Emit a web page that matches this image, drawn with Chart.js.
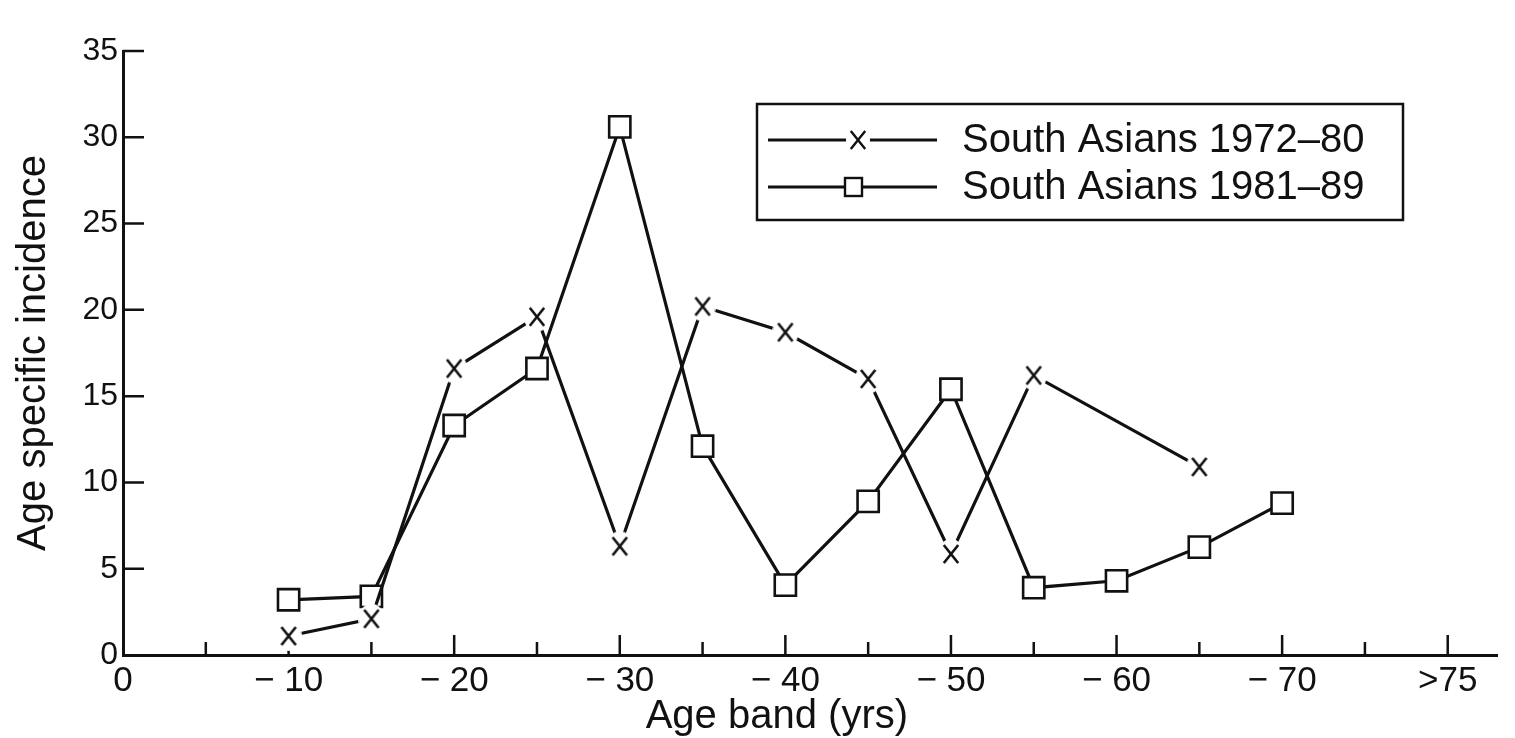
<!DOCTYPE html>
<html>
<head>
<meta charset="utf-8">
<script src="https://cdn.jsdelivr.net/npm/chart.js@4"></script>
<style>
  html, body { margin: 0; padding: 0; background: #fff; }
  #wrap { width: 1515px; height: 738px; }
</style>
</head>
<body>
<div id="wrap"><canvas id="chart" width="1515" height="738"></canvas></div>
<script>
// -------------------- DATA --------------------
const xTickValues = [0, 5, 10, 15, 20, 25, 30, 35, 40, 45, 50, 55, 60, 65, 70, 75, 80];
const xTickLabels = ["0", "", "\u2212 10", "", "\u2212 20", "", "\u2212 30", "", "\u2212 40", "",
    "\u2212 50", "", "\u2212 60", "", "\u2212 70", "", ">75"];
const yTickValues = [0, 5, 10, 15, 20, 25, 30, 35];

const ages1972 = [10, 15, 20, 25, 30, 35, 40, 45, 50, 55, 65];
const incidence1972 = [1.1, 2.1, 16.6, 19.6, 6.3, 20.2, 18.7, 16.0, 5.85, 16.2, 10.9];

const ages1981 = [10, 15, 20, 25, 30, 35, 40, 45, 50, 55, 60, 65, 70];
const incidence1981 = [3.2, 3.4, 13.3, 16.6, 30.6, 12.1, 4.05, 8.9, 15.4, 3.9, 4.3, 6.25, 8.8];

const seriesLabels = ["South Asians 1972\u201380", "South Asians 1981\u201389"];

const FONT = "'Liberation Sans', Arial, Helvetica, sans-serif";

// -------------------- MARKERS --------------------
function makeCross(w, h, arm, lw) {
    const c = document.createElement("canvas");
    c.width = w;
    c.height = h;
    const g = c.getContext("2d");
    g.fillStyle = "#fff";
    g.beginPath();
    g.ellipse(w / 2, h / 2, w / 2, h / 2, 0, 0, Math.PI * 2);
    g.fill();
    g.strokeStyle = "#111";
    g.lineWidth = lw;
    g.beginPath();
    g.moveTo(w / 2 - arm * 0.8, h / 2 - arm);
    g.lineTo(w / 2 + arm * 0.8, h / 2 + arm);
    g.moveTo(w / 2 + arm * 0.8, h / 2 - arm);
    g.lineTo(w / 2 - arm * 0.8, h / 2 + arm);
    g.stroke();
    return c;
}

const crossMarker = makeCross(26, 30, 9, 2.6);
const crossMarkerSmall = makeCross(24, 28, 9, 2.4);

// -------------------- PLUGINS --------------------
const innerTicks = {
    id: "innerTicks",
    beforeDatasetsDraw(chart) {
        const { ctx, scales } = chart;
        const x = scales.x, y = scales.y;
        ctx.save();
        ctx.strokeStyle = "#111";
        ctx.lineWidth = 2.5;
        ctx.beginPath();
        xTickValues.forEach(v => {
            if (v === 0) return;
            const px = x.getPixelForValue(v);
            const len = v % 10 === 0 ? 20 : 13;
            ctx.moveTo(px, y.bottom);
            ctx.lineTo(px, y.bottom - len);
        });
        yTickValues.forEach(v => {
            if (v === 0) return;
            const py = y.getPixelForValue(v);
            ctx.moveTo(x.left, py);
            ctx.lineTo(x.left + 21, py);
        });
        ctx.stroke();
        ctx.restore();
    }
};

const boxLegend = {
    id: "boxLegend",
    afterDraw(chart) {
        const { ctx, chartArea } = chart;
        const left = chartArea.left + 634;
        const top = chartArea.top + 53;
        const w = 646, h = 116;
        ctx.save();
        ctx.fillStyle = "#fff";
        ctx.fillRect(left, top, w, h);
        ctx.strokeStyle = "#111";
        ctx.lineWidth = 2.5;
        ctx.strokeRect(left, top, w, h);

        const rows = [top + 36, top + 83];
        chart.data.datasets.forEach((ds, i) => {
            const ry = rows[i];
            ctx.strokeStyle = "#111";
            ctx.lineWidth = 3.2;
            ctx.beginPath();
            ctx.moveTo(left + 11, ry);
            ctx.lineTo(left + 180, ry);
            ctx.stroke();
            if (i === 0) {
                ctx.drawImage(crossMarkerSmall, left + 101 - 12, ry - 14);
            } else {
                ctx.fillStyle = "#fff";
                ctx.lineWidth = 2.4;
                ctx.fillRect(left + 88, ry - 9, 17, 18);
                ctx.strokeRect(left + 88, ry - 9, 17, 18);
            }
            ctx.fillStyle = "#111";
            ctx.font = "40px " + FONT;
            ctx.textBaseline = "middle";
            ctx.fillText(ds.label, left + 205, ry + 1);
        });
        ctx.restore();
    }
};

// -------------------- BUILD CHART --------------------
const yTickFont = { family: FONT, size: 32 };
const xTickFont = { family: FONT, size: 35 };
const titleFont = { family: FONT, size: 40, lineHeight: 1 };

new Chart(document.getElementById("chart"), {
    type: "line",
    plugins: [innerTicks, boxLegend],
    data: {
        datasets: [
            {
                label: seriesLabels[0],
                data: ages1972.map((a, i) => ({ x: a, y: incidence1972[i] })),
                borderColor: "#111",
                borderWidth: 3.2,
                pointStyle: crossMarker,
                pointRadius: 13,
                tension: 0
            },
            {
                label: seriesLabels[1],
                data: ages1981.map((a, i) => ({ x: a, y: incidence1981[i] })),
                borderColor: "#111",
                backgroundColor: "#fff",
                borderWidth: 3.2,
                pointStyle: "rect",
                pointRadius: 15,
                pointBorderWidth: 2.6,
                pointBackgroundColor: "#fff",
                pointBorderColor: "#111",
                tension: 0
            }
        ]
    },
    options: {
        responsive: false,
        animation: false,
        events: [],
        layout: { padding: { top: 51, right: 15, bottom: 0, left: 0 } },
        plugins: {
            legend: { display: false },
            tooltip: { enabled: false }
        },
        scales: {
            x: {
                type: "linear",
                min: 0,
                max: 83,
                afterBuildTicks: scale => {
                    scale.ticks = xTickValues.map(v => ({ value: v }));
                },
                afterFit: scale => { scale.height = 83; },
                ticks: {
                    autoSkip: false,
                    maxRotation: 0,
                    color: "#111",
                    font: xTickFont,
                    padding: 5,
                    callback: (v) => xTickLabels[xTickValues.indexOf(v)]
                },
                grid: { display: false, drawTicks: false },
                border: { display: true, color: "#111", width: 3 },
                title: {
                    display: true,
                    // trailing spaces nudge the centred title left, as in the original
                    text: "Age band (yrs)\u00a0\u00a0\u00a0\u00a0\u00a0\u00a0",
                    color: "#111",
                    font: titleFont,
                    padding: { top: 0, bottom: 1 }
                }
            },
            y: {
                min: 0,
                max: 35,
                afterBuildTicks: scale => {
                    scale.ticks = yTickValues.map(v => ({ value: v }));
                },
                afterFit: scale => { scale.width = 123; },
                ticks: {
                    color: "#111",
                    font: yTickFont,
                    padding: 5
                },
                grid: { display: false, drawTicks: false },
                border: { display: true, color: "#111", width: 3 },
                title: {
                    display: true,
                    text: "Age specific incidence",
                    color: "#111",
                    font: titleFont,
                    padding: { top: 14, bottom: 0 }
                }
            }
        }
    }
});
</script>
</body>
</html>
